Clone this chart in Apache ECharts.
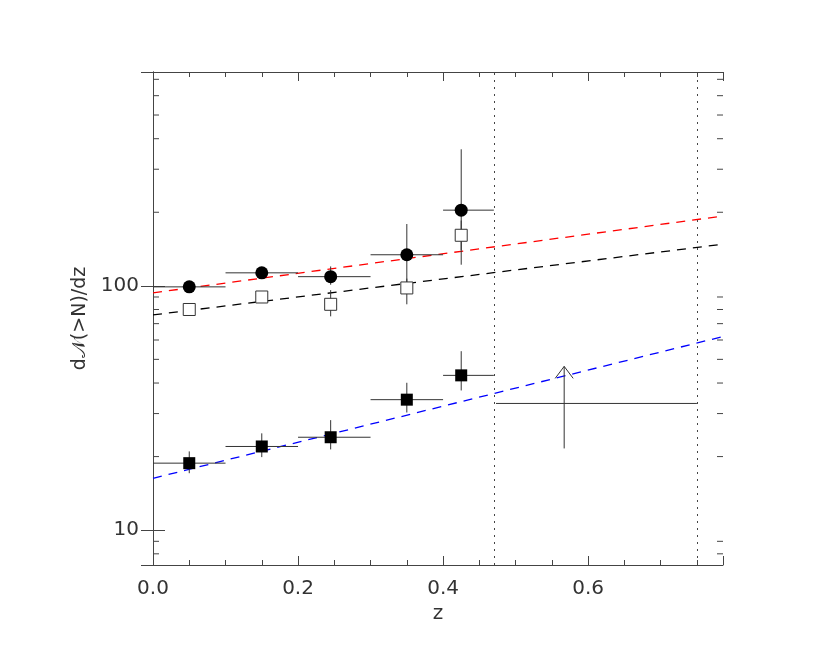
<!DOCTYPE html>
<html>
<head>
<meta charset="utf-8">
<title>dN/dz</title>
<script src="https://cdn.jsdelivr.net/npm/echarts@6/dist/echarts.min.js"></script>
</head>
<body style="margin:0;background:#fff">
<div id="main" style="width:830px;height:664px;"></div>
<script type="text/javascript">
var zMid = [0.05, 0.15, 0.245, 0.35, 0.425];
var zLo = [0.0, 0.1, 0.2, 0.3, 0.4];
var zHi = [0.1, 0.2, 0.3, 0.4, 0.47];

var circVal = [99, 113, 109, 134, 204];
var circLo = [96, 108, 101, 99, 122];
var circHi = [102, 118, 120, 179, 362];

var openVal = [80, 90, 84, 98, 161];
var openLo = [77, 87, 75, 84, 140];
var openHi = [83, 93, 96, 107, 185];

var fillVal = [18.8, 22.0, 24.0, 34.2, 43.0];
var fillLo = [17.1, 19.9, 21.4, 30.3, 37.3];
var fillHi = [21.0, 24.9, 28.2, 40.1, 54.0];

// lower limit in the last bin
var limZ = [0.473, 0.75];
var limMid = 0.567;
var limVal = 33;
var limLo = 21.6;
var limHi = 46.8;

// fitted lines (endpoints read at z=0 and z=0.786)
var fitZ = [0, 0.786];
var redFit = [93.6, 193];
var blackFit = [76, 148];
var blueFit = [16.3, 62];

var yLabels = [10, 100];
var xLabels = [0, 0.2, 0.4, 0.6];
var minorY = [8, 9, 20, 30, 40, 50, 60, 70, 80, 90, 200, 300, 400, 500, 600, 700];

var myChart = echarts.init(document.getElementById('main'));
var font = 'DejaVu Sans';

function pairs(xs, ys) {
  return xs.map(function (x, i) { return [x, ys[i]]; });
}

function errItem(hasX) {
  return function (params, api) {
    var x = api.value(0), y = api.value(1);
    var lo = api.coord([x, api.value(2)]);
    var hi = api.coord([x, api.value(3)]);
    var st = { stroke: '#333', lineWidth: 1 };
    var kids = [{ type: 'line', shape: { x1: lo[0], y1: lo[1], x2: hi[0], y2: hi[1] }, style: st }];
    if (hasX) {
      var a = api.coord([api.value(4), y]);
      var b = api.coord([api.value(5), y]);
      kids.push({ type: 'line', shape: { x1: a[0], y1: a[1], x2: b[0], y2: b[1] }, style: st });
    }
    return { type: 'group', children: kids };
  };
}

function errData(vals, lo, hi) {
  return zMid.map(function (z, i) { return [z, vals[i], lo[i], hi[i], zLo[i], zHi[i]]; });
}

var option = {
  animation: false,
  backgroundColor: '#fff',
  grid: { left: 153, right: 107, top: 72, bottom: 99 },
  xAxis: [{
    type: 'value', min: 0, max: 0.786, interval: 0.2,
    name: 'z', nameLocation: 'middle', nameGap: 38,
    nameTextStyle: { fontFamily: font, fontSize: 20, color: '#333' },
    axisLine: { lineStyle: { color: '#444' } },
    axisTick: { inside: true, length: 9, lineStyle: { color: '#444' } },
    minorTick: { show: true, splitNumber: 4, length: 5, lineStyle: { color: '#444' } },
    axisLabel: {
      fontFamily: font, fontSize: 20, color: '#333', margin: 14, showMaxLabel: false,
      formatter: function (v) {
        return xLabels.some(function (t) { return Math.abs(t - v) < 1e-6; }) ? v.toFixed(1) : '';
      }
    },
    splitLine: { show: false }
  }, {
    type: 'value', min: 0, max: 0.786, interval: 0.2, position: 'top',
    axisLine: { lineStyle: { color: '#444' } },
    axisTick: { inside: true, length: 9, lineStyle: { color: '#444' } },
    minorTick: { show: true, splitNumber: 4, length: 5, lineStyle: { color: '#444' } },
    axisLabel: { show: false }, splitLine: { show: false }
  }],
  yAxis: [{
    type: 'log', logBase: 10, min: 7.2, max: 750,
    name: 'd\u{1D4A9}(>N)/dz', nameLocation: 'middle', nameGap: 58,
    nameTextStyle: { fontFamily: font, fontSize: 19, color: '#333' },
    axisLine: { lineStyle: { color: '#444' } },
    axisTick: { inside: true, length: 12, lineStyle: { color: '#444' } },
    axisLabel: {
      fontFamily: font, fontSize: 20, color: '#333', margin: 14,
      showMinLabel: false, showMaxLabel: false,
      formatter: function (v) {
        return yLabels.some(function (t) { return Math.abs(t - v) < 1e-6; }) ? String(Math.round(v)) : '';
      }
    },
    splitLine: { show: false }
  }, {
    type: 'log', logBase: 10, min: 7.2, max: 750, position: 'right',
    axisLine: { lineStyle: { color: '#444' } },
    axisTick: { inside: true, length: 12, lineStyle: { color: '#444' } },
    axisLabel: { show: false }, splitLine: { show: false }
  }],
  series: [
    {
      type: 'custom', silent: true, z: 1,
      renderItem: function (params, api) {
        var y = api.value(0);
        var l = api.coord([0, y]), r = api.coord([0.786, y]);
        var st = { stroke: '#444', lineWidth: 1 };
        return { type: 'group', children: [
          { type: 'line', shape: { x1: l[0], y1: l[1], x2: l[0] + 6, y2: l[1] }, style: st },
          { type: 'line', shape: { x1: r[0], y1: r[1], x2: r[0] - 6, y2: r[1] }, style: st }
        ] };
      },
      data: minorY.map(function (v) { return [v]; }),
      encode: { y: 0 }
    },
    { type: 'line', data: pairs(fitZ, redFit), symbol: 'none', lineStyle: { color: '#f00', width: 1.3, type: [9, 7] }, z: 2 },
    { type: 'line', data: pairs(fitZ, blackFit), symbol: 'none', lineStyle: { color: '#000', width: 1.3, type: [9, 7] }, z: 2 },
    {
      type: 'line', data: pairs(fitZ, blueFit), symbol: 'none', lineStyle: { color: '#00f', width: 1.3, type: [9, 7] }, z: 2,
      markLine: {
        silent: true, symbol: 'none', label: { show: false },
        lineStyle: { color: '#444', type: [2, 5], width: 1 },
        data: [{ xAxis: limZ[0] }, { xAxis: limZ[1] }]
      }
    },
    { type: 'custom', renderItem: errItem(true), data: errData(circVal, circLo, circHi), encode: { x: 0, y: 1 }, z: 3 },
    { type: 'custom', renderItem: errItem(false), data: errData(openVal, openLo, openHi), encode: { x: 0, y: 1 }, z: 3 },
    { type: 'custom', renderItem: errItem(true), data: errData(fillVal, fillLo, fillHi), encode: { x: 0, y: 1 }, z: 3 },
    {
      type: 'custom', z: 3,
      renderItem: function (params, api) {
        var a = api.coord([api.value(0), api.value(2)]);
        var b = api.coord([api.value(1), api.value(2)]);
        var lo = api.coord([api.value(3), api.value(4)]);
        var hi = api.coord([api.value(3), api.value(5)]);
        var st = { stroke: '#333', lineWidth: 1, fill: 'none' };
        return { type: 'group', children: [
          { type: 'line', shape: { x1: a[0], y1: a[1], x2: b[0], y2: b[1] }, style: st },
          { type: 'line', shape: { x1: lo[0], y1: lo[1], x2: hi[0], y2: hi[1] }, style: st },
          { type: 'polyline', shape: { points: [[hi[0] - 9, hi[1] + 12], [hi[0], hi[1]], [hi[0] + 9, hi[1] + 12]] }, style: st }
        ] };
      },
      data: [[limZ[0], limZ[1], limVal, limMid, limLo, limHi]]
    },
    { type: 'scatter', data: pairs(zMid, circVal), symbol: 'circle', symbolSize: 13, itemStyle: { color: '#000', opacity: 1 }, z: 4 },
    { type: 'scatter', data: pairs(zMid, openVal), symbol: 'rect', symbolSize: 12, itemStyle: { color: '#fff', borderColor: '#333', borderWidth: 1, opacity: 1 }, z: 4 },
    { type: 'scatter', data: pairs(zMid, fillVal), symbol: 'rect', symbolSize: 12, itemStyle: { color: '#000', opacity: 1 }, z: 4 }
  ]
};

myChart.setOption(option);
</script>
</body>
</html>
